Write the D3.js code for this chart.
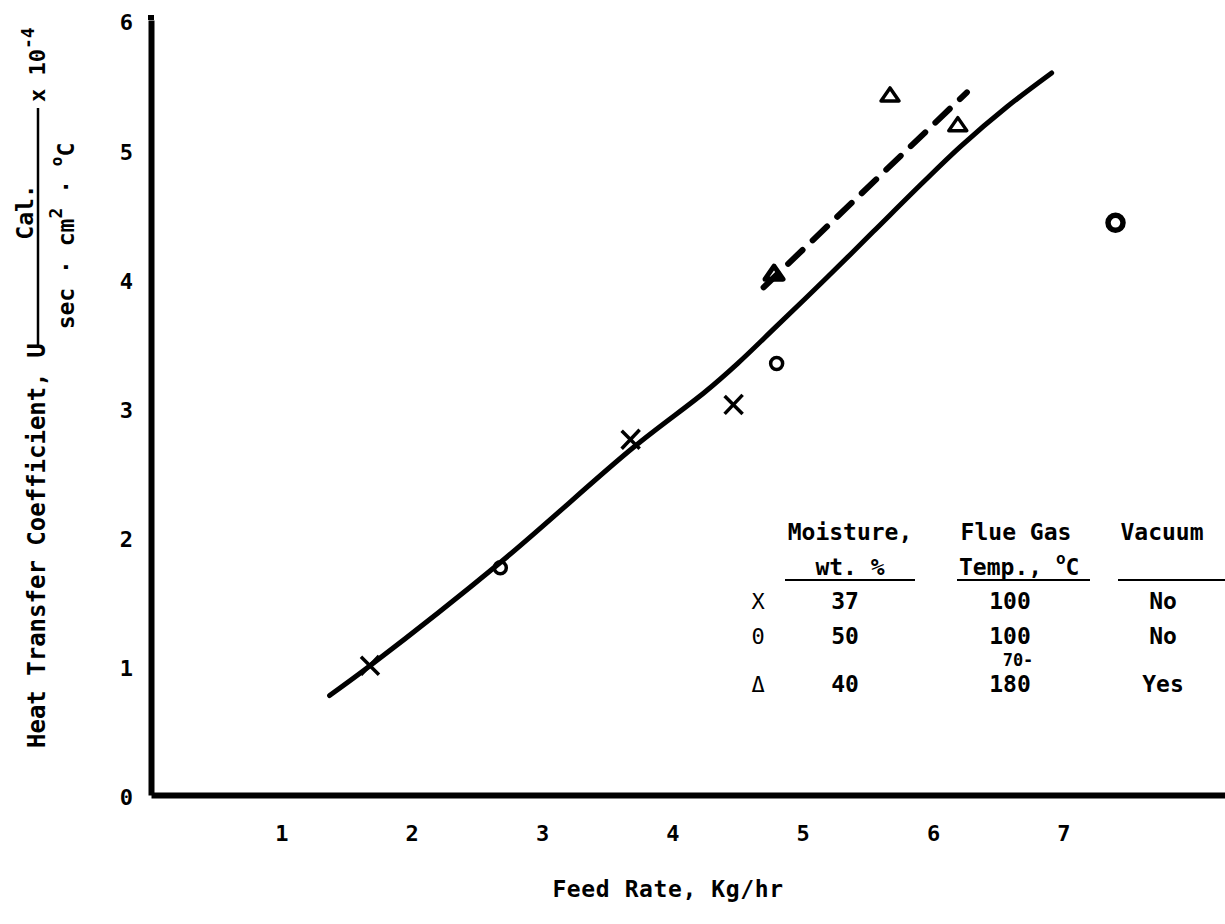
<!DOCTYPE html>
<html>
<head>
<meta charset="utf-8">
<script src="https://cdn.jsdelivr.net/npm/d3@7"></script>
<style>
  body { margin: 0; background: #fff; }
  svg { display: block; }
  text { font-family: "DejaVu Sans Mono", "Liberation Mono", monospace; font-weight: bold; fill: #000; }
</style>
</head>
<body>
<svg id="chart" width="1225" height="924"></svg>
<script>
// data
const xTicks = [1, 2, 3, 4, 5, 6, 7];
const yTicks = [0, 1, 2, 3, 4, 5, 6];

// moisture 37 %, 100 C, no vacuum
const crossPts = [[1.68, 1.0], [3.68, 2.75], [4.47, 3.02]];
// moisture 50 %, 100 C, no vacuum
const circlePts = [[2.68, 1.76], [4.80, 3.34], [7.40, 4.43]];
// moisture 40 %, 70-180 C, vacuum
const trianglePts = [[4.78, 4.04], [5.67, 5.42], [6.19, 5.19]];

// fitted curves
const solidCurve = [[1.37, 0.77], [1.68, 1.0], [2.68, 1.80], [3.70, 2.69],
  [4.25, 3.12], [4.50, 3.34], [4.80, 3.63], [5.19, 4.01], [5.54, 4.36], [5.92, 4.74],
  [6.21, 5.02], [6.57, 5.33], [6.91, 5.59]];
const dashedCurve = [[4.70, 3.93], [6.26, 5.44]];

// legend table
const legendSymbols = ["X", "0", "\u0394"];
const legendMoisture = ["37", "50", "40"];
const legendTemp = ["100", "100", "180"];
const legendVacuum = ["No", "No", "Yes"];

const svg = d3.select("#chart");

const x = d3.scaleLinear().domain([0, 8.24]).range([151, 1225]);
const y = d3.scaleLinear().domain([0, 6]).range([795, 20]);

// axes
const xAxis = svg.append("g")
    .attr("transform", `translate(0,${y(0)})`)
    .call(d3.axisBottom(x).tickValues(xTicks).tickSize(0).tickSizeOuter(0).tickPadding(30).tickFormat(d3.format("d")));
xAxis.select(".domain").attr("stroke", "#000").attr("stroke-width", 6);
xAxis.selectAll("text").style("font-size", "22px").style("font-family", null);

const yAxis = svg.append("g")
    .attr("transform", `translate(${x(0)},0)`)
    .call(d3.axisLeft(y).tickValues(yTicks).tickSize(0).tickSizeOuter(0).tickPadding(18).tickFormat(d3.format("d")));
yAxis.select(".domain").attr("stroke", "#000").attr("stroke-width", 6);
yAxis.selectAll("text").style("font-size", "22px").style("font-family", null).attr("dy", "0.45em");

// y axis runs a little past 6 in the original
svg.append("line")
    .attr("x1", x(0)).attr("x2", x(0))
    .attr("y1", y(6)).attr("y2", y(6) - 5)
    .attr("stroke", "#000").attr("stroke-width", 6);

// x title
svg.append("text")
    .attr("x", 668).attr("y", 897)
    .attr("text-anchor", "middle")
    .style("font-size", "23px")
    .style("letter-spacing", "0.6px")
    .text("Feed Rate, Kg/hr");

// y title (rotated, with the units fraction)
const yt = svg.append("g").attr("transform", "translate(45,748) rotate(-90)");
yt.append("text")
    .attr("x", 0).attr("y", 0)
    .style("font-size", "24px")
    .text("Heat Transfer Coefficient, U");
yt.append("line")
    .attr("x1", 402).attr("x2", 640)
    .attr("y1", -7).attr("y2", -7)
    .attr("stroke", "#000").attr("stroke-width", 2.5);
yt.append("text")
    .attr("x", 536).attr("y", -12)
    .attr("text-anchor", "middle")
    .style("font-size", "23px")
    .text("Cal.");
const den = yt.append("text")
    .attr("x", 512).attr("y", 29)
    .attr("text-anchor", "middle")
    .style("font-size", "23px");
den.append("tspan").text("sec \u00b7 cm");
den.append("tspan").attr("dy", -12).style("font-size", "18px").text("2");
den.append("tspan").attr("dy", 12).text(" \u00b7 ");
den.append("tspan").attr("dy", -12).style("font-size", "16px").text("o");
den.append("tspan").attr("dy", 12).text("C");
const mult = yt.append("text")
    .attr("x", 646).attr("y", 0)
    .style("font-size", "22px");
mult.append("tspan").text("x 10");
mult.append("tspan").attr("dy", -11).style("font-size", "18px").text("-4");

// curves
svg.append("path")
    .datum(solidCurve)
    .attr("d", d3.line().x(d => x(d[0])).y(d => y(d[1])).curve(d3.curveCatmullRom.alpha(0.5)))
    .attr("fill", "none")
    .attr("stroke", "#000")
    .attr("stroke-width", 5)
    .attr("stroke-linecap", "round");
svg.append("path")
    .datum(dashedCurve)
    .attr("d", d3.line().x(d => x(d[0])).y(d => y(d[1])))
    .attr("fill", "none")
    .attr("stroke", "#000")
    .attr("stroke-width", 6)
    .attr("stroke-dasharray", "20 14")
    .attr("stroke-linecap", "round");

// markers
svg.append("g").selectAll("path")
    .data(crossPts)
    .join("path")
    .attr("transform", d => `translate(${x(d[0])},${y(d[1])})`)
    .attr("d", "M-9,-9L9,9M9,-10L-9,9")
    .attr("stroke", "#000")
    .attr("stroke-width", 3.5)
    .attr("fill", "none");

svg.append("g").selectAll("circle")
    .data(circlePts)
    .join("circle")
    .attr("cx", d => x(d[0]))
    .attr("cy", d => y(d[1]))
    .attr("r", (d, i) => i === 2 ? 7.5 : 6)
    .attr("fill", "none")
    .attr("stroke", "#000")
    .attr("stroke-width", (d, i) => i === 2 ? 5.5 : 3.5);

svg.append("g").selectAll("path")
    .data(trianglePts)
    .join("path")
    .attr("transform", d => `translate(${x(d[0])},${y(d[1])})`)
    .attr("d", "M0,-7L9,6L-9,6Z")
    .attr("fill", "none")
    .attr("stroke", "#000")
    .attr("stroke-width", (d, i) => i === 0 ? 5 : 3.5)
    .attr("stroke-linejoin", "round");

// legend table
const lg = svg.append("g");
const colSym = 758, colMoist = 845, colTemp = 1010, colVac = 1163;
const rowY = [609, 644, 692];

lg.append("text").attr("x", 850).attr("y", 540).attr("text-anchor", "middle").style("font-size", "23px").text("Moisture,");
lg.append("text").attr("x", 850).attr("y", 575).attr("text-anchor", "middle").style("font-size", "23px").text("wt. %");
lg.append("text").attr("x", 1016).attr("y", 540).attr("text-anchor", "middle").style("font-size", "23px").text("Flue Gas");
const tmp = lg.append("text").attr("x", 959).attr("y", 575).style("font-size", "23px");
tmp.append("tspan").text("Temp., ");
tmp.append("tspan").attr("dy", -11).style("font-size", "16px").text("o");
tmp.append("tspan").attr("dy", 11).text("C");
lg.append("text").attr("x", 1162).attr("y", 540).attr("text-anchor", "middle").style("font-size", "23px").text("Vacuum");

[[785, 915], [957, 1090], [1118, 1225]].forEach(([a, b]) => {
  lg.append("line").attr("x1", a).attr("x2", b).attr("y1", 580).attr("y2", 580)
    .attr("stroke", "#000").attr("stroke-width", 2);
});

const rows = lg.selectAll("g.row")
    .data(legendSymbols.map((s, i) => ({ s, m: legendMoisture[i], t: legendTemp[i], v: legendVacuum[i], i })))
    .join("g").attr("class", "row");
rows.append("text").attr("x", colSym).attr("y", d => rowY[d.i]).attr("text-anchor", "middle")
    .style("font-size", "22px").style("font-weight", "normal").text(d => d.s);
rows.append("text").attr("x", colMoist).attr("y", d => rowY[d.i]).attr("text-anchor", "middle")
    .style("font-size", "23px").text(d => d.m);
rows.append("text").attr("x", colTemp).attr("y", d => rowY[d.i]).attr("text-anchor", "middle")
    .style("font-size", "23px").text(d => d.t);
rows.append("text").attr("x", colVac).attr("y", d => rowY[d.i]).attr("text-anchor", "middle")
    .style("font-size", "23px").text(d => d.v);
// "70-" squeezed in above 180
lg.append("text").attr("x", colTemp + 8).attr("y", 666).attr("text-anchor", "middle")
    .style("font-size", "17px").text("70-");
</script>
</body>
</html>
